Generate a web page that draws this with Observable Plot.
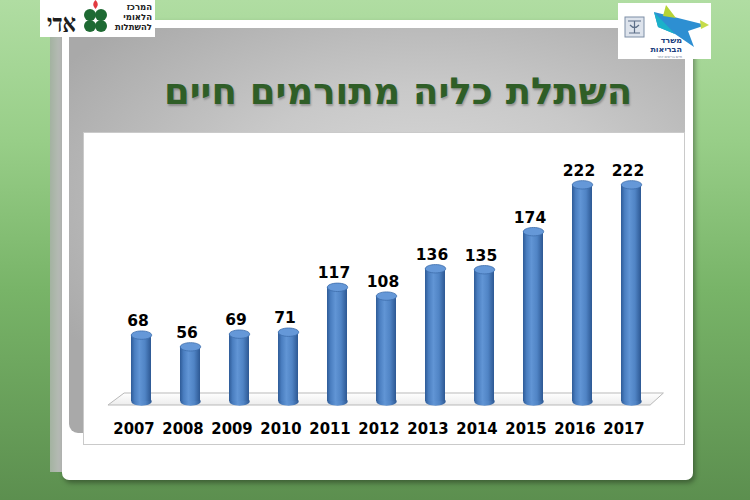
<!DOCTYPE html>
<html>
<head>
<meta charset="utf-8">
<script src="https://cdn.jsdelivr.net/npm/d3@7"></script>
<script src="https://cdn.jsdelivr.net/npm/@observablehq/plot@0.6"></script>
<style>
html,body{margin:0;padding:0;}
body{width:750px;height:500px;overflow:hidden;position:relative;
  background:linear-gradient(180deg,#b0dda2 0%,#98ce88 28%,#78b468 58%,#5c8f4f 100%);
  font-family:"DejaVu Sans",sans-serif;}
.abs{position:absolute;}
#strip{left:50px;top:37px;width:13px;height:435px;background:linear-gradient(90deg,#a3b3a0,#bdbdbd);}
#panel{left:62px;top:20px;width:631px;height:460px;background:#fff;border-radius:0 0 7px 7px;
  box-shadow:2px 3px 5px rgba(0,0,0,0.35);}
#graybox{left:69px;top:28px;width:616px;height:405px;border-radius:0 0 0 9px;
  background:radial-gradient(ellipse 70% 60% at 58% 42%,#dadada 0%,#c9c9c9 45%,#a9a9a9 100%);}
#title{left:90px;top:70px;width:616px;text-align:center;direction:rtl;
  font-weight:bold;font-size:37px;font-family:"DejaVu Sans",sans-serif;color:#2f5e27;
  text-shadow:1px 2px 2px rgba(0,0,0,0.25);line-height:44px;}
#chartbox{left:83px;top:132px;width:600px;height:311px;border:1px solid #cacaca;background:#fff;}
#chartbox svg{display:block;}
</style>
</head>
<body>
<div id="strip" class="abs"></div>
<div id="panel" class="abs"></div>
<div id="graybox" class="abs"></div>
<div id="title" class="abs">השתלת כליה מתורמים חיים</div>
<div id="chartbox" class="abs"></div>

<svg class="abs" style="left:40px;top:0" width="115" height="37" viewBox="0 0 115 37">
  <rect width="115" height="37" fill="#fff"/>
  <text x="7" y="32" textLength="29" lengthAdjust="spacingAndGlyphs" font-family="Liberation Serif" font-weight="bold" font-size="26" fill="#1d1d1d">אדי</text>
  <g fill="#1e6a33">
    <circle cx="50" cy="15" r="6"/><circle cx="61" cy="15" r="6"/>
    <circle cx="50" cy="26" r="6"/><circle cx="61" cy="26" r="6"/>
  </g>
  <path d="M55.5 0 C58 3 59 5 55.5 9 C52 5 53 3 55.5 0 Z" fill="#e23a3f"/>
  <g font-family="DejaVu Sans" font-weight="bold" font-size="8.5" fill="#222" text-anchor="end">
    <text x="112" y="10">המרכז</text>
    <text x="112" y="20">הלאומי</text>
    <text x="112" y="30">להשתלות</text>
  </g>
</svg>

<svg class="abs" style="left:618px;top:3px" width="93" height="56" viewBox="0 0 93 56">
  <rect width="93" height="56" fill="#fff"/>
  <rect x="7" y="14" width="19" height="20" fill="#dde3ec" stroke="#7d8ea6" stroke-width="1"/>
  <path d="M10 18 h13 M16.5 18 v12 M12 22 q4.5 5 9 0 M11 30 h11" stroke="#5d6f88" stroke-width="1.2" fill="none"/>
  <polygon points="36,9 88,22 70,28 76,44 57,31 40,24" fill="#2d8fd2"/>
  <polygon points="36,9 57,31 40,24" fill="#1bb1c9"/>
  <polygon points="48,2 58,15 45,13" fill="#b7d336"/>
  <polygon points="82,17 91,22 83,26" fill="#c6dc4a"/>
  <g font-family="DejaVu Sans" font-weight="bold" fill="#203f7e" text-anchor="end">
    <text x="64" y="39.5" font-size="8">משרד</text>
    <text x="64" y="49" font-size="8">הבריאות</text>
  </g>
  <text x="64" y="55" font-size="3.5" text-anchor="end" fill="#6a7b95" font-family="DejaVu Sans">חיים בריאים יותר</text>
</svg>

<script>
// ---- data ----
const years = ["2007","2008","2009","2010","2011","2012","2013","2014","2015","2016","2017"];
const transplants = [68, 56, 69, 71, 117, 108, 136, 135, 174, 222, 222];

const data = years.map((year, i) => ({year, value: transplants[i]}));

const PAD_INNER = 0.595;

// ellipse symbol for cylinder caps
const ellipse = {
  draw(ctx) {
    const rx = 10.2, ry = 4.2, k = 0.5523;
    ctx.moveTo(-rx, 0);
    ctx.bezierCurveTo(-rx, -ry * k, -rx * k, -ry, 0, -ry);
    ctx.bezierCurveTo(rx * k, -ry, rx, -ry * k, rx, 0);
    ctx.bezierCurveTo(rx, ry * k, rx * k, ry, 0, ry);
    ctx.bezierCurveTo(-rx * k, ry, -rx, ry * k, -rx, 0);
    ctx.closePath();
  }
};

// gradient definitions
function defs() {
  const d = d3.create("svg:defs");
  const g = d.append("linearGradient").attr("id", "cyl").attr("x1", 0).attr("x2", 1).attr("y1", 0).attr("y2", 0);
  [[0, "#2e5b97"], [0.18, "#4a7ec0"], [0.42, "#6195d5"], [0.7, "#5084c5"], [1, "#2d5893"]]
    .forEach(([o, c]) => g.append("stop").attr("offset", o).attr("stop-color", c));
  const f = d.append("linearGradient").attr("id", "floorg").attr("x1", 0).attr("x2", 0).attr("y1", 0).attr("y2", 1);
  [[0, "#ffffff"], [1, "#ededed"]].forEach(([o, c]) => f.append("stop").attr("offset", o).attr("stop-color", c));
  return d.node();
}

// 3D floor, derived from the x and y scales
function floor(index, scales) {
  const x = scales.x, y = scales.y;
  const step = x(years[1]) - x(years[0]);
  const bw = step * (1 - PAD_INNER);
  const first = x(years[0]);
  const last = x(years[years.length - 1]) + bw;
  const y0 = y(0);
  const pts = [
    [first - 0.47 * step, y0 + 4],
    [first - 0.14 * step, y0 - 8],
    [last + 0.46 * step, y0 - 8],
    [last + 0.19 * step, y0 + 4]
  ];
  return d3.create("svg:polygon")
    .attr("points", pts.map(p => p.join(",")).join(" "))
    .attr("fill", "url(#floorg)")
    .attr("stroke", "#b9b9b9")
    .attr("stroke-width", 1)
    .node();
}

const chart = Plot.plot({
  width: 600,
  height: 311,
  marginLeft: 20.3,
  marginRight: 16.7,
  marginTop: 24,
  marginBottom: 43,
  x: {type: "band", domain: years, paddingInner: PAD_INNER, paddingOuter: 0.5, label: null},
  y: {domain: [0, 250], axis: null},
  style: {background: "transparent", overflow: "visible"},
  marks: [
    defs,
    floor,
    Plot.dot(data, {x: "year", y: () => 0, symbol: ellipse, r: 5, fill: "url(#cyl)", stroke: "none"}),
    Plot.barY(data, {x: "year", y: "value", fill: "url(#cyl)"}),
    Plot.dot(data, {x: "year", y: "value", symbol: ellipse, r: 5, fill: "#6598d8", stroke: "#3e6dab", strokeWidth: 0.8}),
    Plot.text(data, {x: "year", y: "value", text: d => String(d.value), dy: -14, dx: -3.5,
      fontSize: 15.5, fontWeight: "bold", fontFamily: "DejaVu Sans", fill: "#000"}),
    Plot.axisX({tickSize: 0, tickPadding: 21, dx: -7.5, fontSize: 16.5, fontWeight: "bold",
      fontFamily: "DejaVu Sans Condensed", fill: "#000", label: null})
  ]
});
document.getElementById("chartbox").appendChild(chart);
</script>
</body>
</html>
